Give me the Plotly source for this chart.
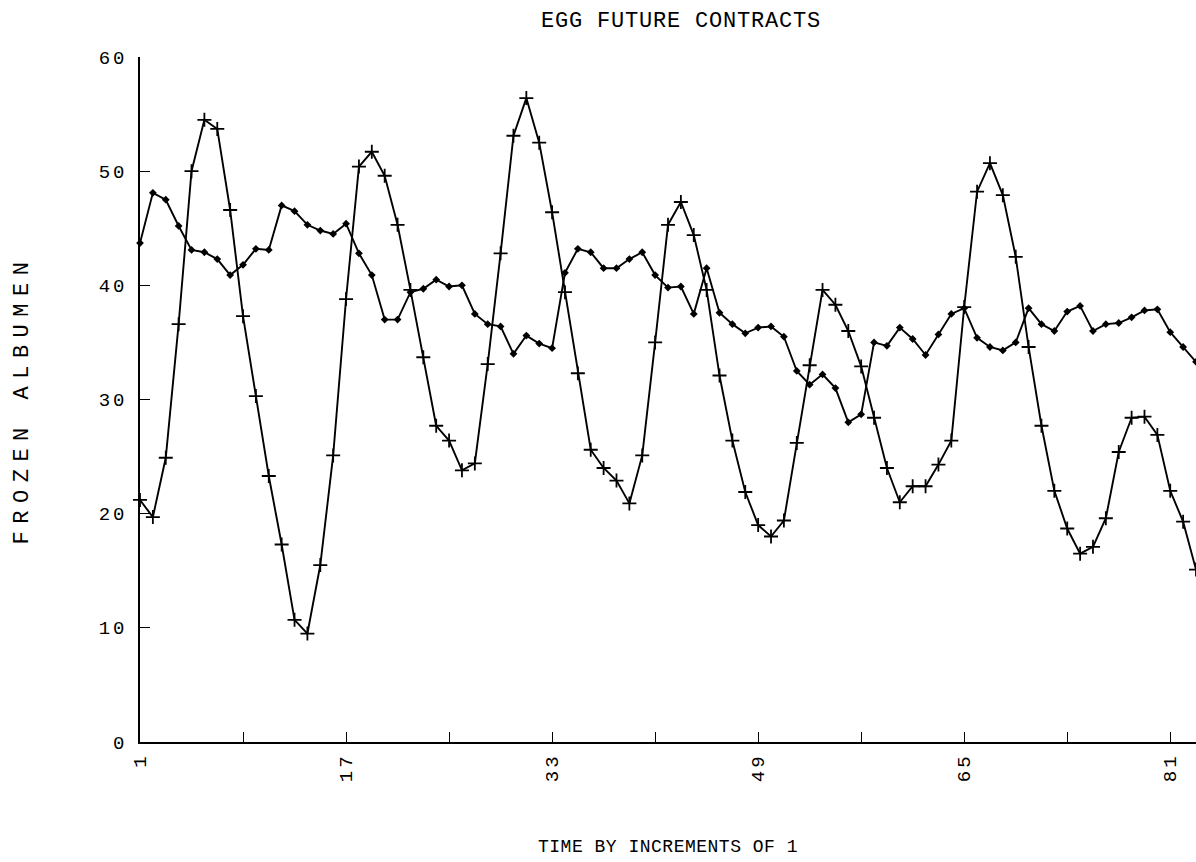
import plotly.graph_objects as go

time_index = list(range(1, 84))

series_plus = [21.2, 19.7, 24.9, 36.6, 50.0, 54.5, 53.7, 46.6, 37.3, 30.3,
               23.3, 17.3, 10.7, 9.5, 15.5, 25.1, 38.8, 50.4, 51.7, 49.6,
               45.3, 39.6, 33.7, 27.7, 26.4, 23.8, 24.4, 33.1, 42.8, 53.1,
               56.4, 52.5, 46.4, 39.4, 32.3, 25.6, 24.0, 22.9, 20.9, 25.1,
               35.0, 45.3, 47.3, 44.4, 39.6, 32.1, 26.4, 21.9, 19.0, 18.0,
               19.4, 26.2, 33.0, 39.6, 38.3, 36.0, 32.9, 28.4, 24.0, 21.0,
               22.4, 22.4, 24.3, 26.4, 38.1, 48.2, 50.7, 47.9, 42.5, 34.6,
               27.7, 22.0, 18.7, 16.5, 17.1, 19.6, 25.4, 28.4, 28.5, 26.9,
               22.0, 19.3, 15.1]

series_diamond = [43.7, 48.1, 47.5, 45.2, 43.1, 42.9, 42.3, 40.9, 41.8, 43.2,
                  43.1, 47.0, 46.5, 45.3, 44.8, 44.5, 45.4, 42.8, 40.9, 37.0,
                  37.0, 39.4, 39.7, 40.5, 39.9, 40.0, 37.5, 36.6, 36.4, 34.0,
                  35.6, 34.9, 34.5, 41.1, 43.2, 42.9, 41.5, 41.5, 42.3, 42.9,
                  40.9, 39.8, 39.9, 37.5, 41.5, 37.6, 36.6, 35.8, 36.3, 36.4,
                  35.5, 32.5, 31.3, 32.2, 31.0, 28.0, 28.7, 35.0, 34.7, 36.3,
                  35.3, 33.9, 35.7, 37.5, 38.0, 35.4, 34.6, 34.3, 35.0, 38.0,
                  36.6, 36.0, 37.7, 38.2, 36.0, 36.6, 36.7, 37.2, 37.8, 37.9,
                  35.9, 34.6, 33.3]

x_tick_vals = [1, 9, 17, 25, 33, 41, 49, 57, 65, 73, 81]
x_tick_text = ["1", "", "17", "", "33", "", "49", "", "65", "", "81"]
y_tick_vals = [0, 10, 20, 30, 40, 50, 60]
y_tick_text = ["0", "10", "20", "30", "40", "50", "60"]

title_text = "EGG FUTURE CONTRACTS"
x_title = "TIME BY INCREMENTS OF 1"
y_title = "FROZEN ALBUMEN"

FONT = "Liberation Mono, DejaVu Sans Mono, monospace"


def spaced(s, px):
    return f'<span style="letter-spacing:{px}px">{s}</span>'


fig = go.Figure()
fig.add_trace(go.Scatter(
    x=time_index, y=series_diamond, mode="lines+markers",
    line=dict(color="black", width=1.9),
    marker=dict(symbol="diamond", size=6, color="black"),
    showlegend=False, cliponaxis=False,
))
fig.add_trace(go.Scatter(
    x=time_index, y=series_plus, mode="lines+markers",
    line=dict(color="black", width=1.9),
    marker=dict(symbol="cross-thin", size=10, color="black",
                line=dict(color="black", width=1.8)),
    showlegend=False, cliponaxis=False,
))

fig.update_layout(
    width=1196, height=862,
    margin=dict(l=140, r=0, t=57, b=120, autoexpand=False),
    paper_bgcolor="white", plot_bgcolor="white",
    font=dict(family=FONT, color="black"),
    title=dict(text=spaced(title_text, 0.8), x=(681 - 140) / 1056,
               xref="paper", y=1 - 19 / 862, yref="container",
               yanchor="middle", xanchor="center",
               font=dict(family=FONT, size=22, color="black")),
)

fig.update_xaxes(
    range=[1, 83], showgrid=False, zeroline=False,
    showline=True, linecolor="black", linewidth=1.5,
    ticks="inside", ticklen=10, tickwidth=1.3, tickcolor="black",
    tickvals=x_tick_vals,
    ticktext=[spaced(t, 3) for t in x_tick_text],
    tickangle=-90, ticklabelstandoff=2,
    tickfont=dict(family=FONT, size=19, color="black"),
    title=dict(text=spaced(x_title, 0.5), standoff=58,
               font=dict(family=FONT, size=18, color="black")),
    automargin=False,
)
fig.update_yaxes(
    range=[0, 60], showgrid=False, zeroline=False,
    showline=True, linecolor="black", linewidth=1.5,
    ticks="inside", ticklen=10, tickwidth=1.3, tickcolor="black",
    tickvals=y_tick_vals,
    ticktext=[spaced(t, 3) for t in y_tick_text],
    ticklabelstandoff=7,
    tickfont=dict(family=FONT, size=19, color="black"),
    title=dict(text=spaced(y_title, 7.5), standoff=64,
               font=dict(family=FONT, size=22, color="black")),
    automargin=False,
)

fig.write_html("out.html")
